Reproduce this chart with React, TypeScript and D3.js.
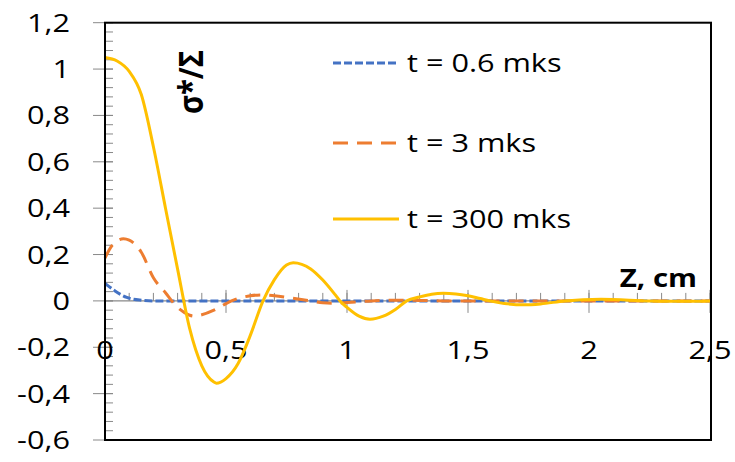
import React, { useEffect, useRef } from 'react';
import * as d3 from 'd3';

// values
const yTicks = [-0.6, -0.4, -0.2, 0, 0.2, 0.4, 0.6, 0.8, 1, 1.2];
const xTicks = [0, 0.5, 1, 1.5, 2, 2.5];

const seriesNames = ['t = 0.6 mks', 't = 3 mks', 't = 300 mks'];
const seriesColors = ['#4472C4', '#ED7D31', '#FFC000'];
const seriesDash = ['8,3', '15,9', null];

const blueZ = [0, 0.04, 0.09, 0.15, 0.2, 0.5, 1, 1.5, 2, 2.5];
const blueS = [0.076, 0.044, 0.015, 0.003, 0, 0, 0, 0, 0, 0];

const orangeZ = [0, 0.03, 0.076, 0.1, 0.15, 0.2, 0.25, 0.3, 0.35, 0.372, 0.4, 0.45, 0.5, 0.523, 0.6, 0.65, 0.7, 0.77, 0.85, 0.9, 0.95, 1.0, 1.1, 1.2, 1.3, 1.4, 1.6, 2, 2.5];
const orangeS = [0.185, 0.24, 0.268, 0.262, 0.21, 0.1, 0.035, -0.028, -0.062, -0.066, -0.06, -0.04, -0.012, 0, 0.022, 0.026, 0.022, 0.012, 0, -0.008, -0.01, -0.007, 0, 0.003, 0.002, 0, 0, 0, 0];

const yellowZ = [0, 0.05, 0.1, 0.15, 0.2, 0.25, 0.3, 0.35, 0.4, 0.45, 0.46, 0.5, 0.55, 0.6, 0.653, 0.7, 0.75, 0.778, 0.85, 0.9, 0.95, 0.971, 1.0, 1.05, 1.095, 1.15, 1.2, 1.247, 1.3, 1.35, 1.398, 1.45, 1.5, 1.55, 1.59, 1.65, 1.73, 1.8, 1.9, 2.05, 2.25, 2.4, 2.5];
const yellowS = [1.05, 1.035, 0.99, 0.89, 0.665, 0.4, 0.137, -0.12, -0.28, -0.35, -0.355, -0.335, -0.27, -0.15, 0, 0.092, 0.155, 0.165, 0.138, 0.09, 0.028, 0, -0.028, -0.066, -0.079, -0.066, -0.037, 0, 0.017, 0.029, 0.033, 0.03, 0.022, 0.01, 0, -0.011, -0.017, -0.013, 0, 0.007, 0, -0.002, 0];

const seriesZ = [blueZ, orangeZ, yellowZ];
const seriesS = [blueS, orangeS, yellowS];

const fmt = (v: number) => String(+v.toFixed(1)).replace('.', ',');

const App = () => {
  const svgRef = useRef<SVGSVGElement>(null);
  const width = 735;
  const height = 462;
  const stretch = 1.18;
  const font = '"Open Sans", sans-serif';

  useEffect(() => {
    const x = d3.scaleLinear().domain([0, 2.5]).range([105, 710]);
    const y = d3.scaleLinear().domain([-0.6, 1.2]).range([440, 22.7]);

    const svg = d3.select(svgRef.current)
      .attr('width', width)
      .attr('height', height)
      .style('background', '#fff');
    svg.selectAll('*').remove();

    const label = (g: any, tx: number, ty: number, txt: string, anchor: string, size: number, bold = false) =>
      g.append('text')
        .attr('transform', `translate(${tx},${ty}) scale(${stretch},1)`)
        .attr('text-anchor', anchor)
        .attr('font-family', font)
        .attr('font-size', size)
        .attr('font-weight', bold ? 'bold' : 'normal')
        .attr('fill', '#000')
        .text(txt);

    // minor ticks
    const minorY = d3.range(-0.6, 1.2001, 0.04);
    svg.append('g').selectAll('line').data(minorY).enter().append('line')
      .attr('x1', x(0)).attr('x2', x(0) + 8)
      .attr('y1', d => y(d)).attr('y2', d => y(d))
      .attr('stroke', '#898989').attr('stroke-width', 1);
    const minorX = d3.range(0, 2.5001, 0.1);
    svg.append('g').selectAll('line').data(minorX).enter().append('line')
      .attr('x1', d => x(d)).attr('x2', d => x(d))
      .attr('y1', y(0) - 8).attr('y2', y(0))
      .attr('stroke', '#898989').attr('stroke-width', 1);

    // major ticks
    svg.append('g').selectAll('line').data(yTicks).enter().append('line')
      .attr('x1', x(0) - 12).attr('x2', x(0) + 8)
      .attr('y1', d => y(d)).attr('y2', d => y(d))
      .attr('stroke', '#898989').attr('stroke-width', 1);
    svg.append('g').selectAll('line').data(xTicks).enter().append('line')
      .attr('x1', d => x(d)).attr('x2', d => x(d))
      .attr('y1', y(0) - 11).attr('y2', y(0) + 12)
      .attr('stroke', '#898989').attr('stroke-width', 1);

    // zero line
    svg.append('line')
      .attr('x1', x(0)).attr('x2', x(2.5))
      .attr('y1', y(0)).attr('y2', y(0))
      .attr('stroke', '#898989').attr('stroke-width', 1.2);

    // tick labels
    const yl = svg.append('g');
    yTicks.forEach(v => label(yl, 70, y(v) + 9, fmt(v), 'end', 26));
    const xl = svg.append('g');
    xTicks.forEach(v => label(xl, x(v), 359, fmt(v), 'middle', 26));

    // series
    const line = d3.line<[number, number]>()
      .x(d => x(d[0]))
      .y(d => y(d[1]))
      .curve(d3.curveMonotoneX);
    seriesZ.forEach((zs, i) => {
      const pts = zs.map((z, k) => [z, seriesS[i][k]] as [number, number]);
      svg.append('path')
        .datum(pts)
        .attr('fill', 'none')
        .attr('stroke', seriesColors[i])
        .attr('stroke-width', 3)
        .attr('stroke-dasharray', seriesDash[i])
        .attr('d', line);
    });

    // frame
    svg.append('rect')
      .attr('x', x(0)).attr('y', y(1.2))
      .attr('width', x(2.5) + 1 - x(0)).attr('height', y(-0.6) - y(1.2))
      .attr('fill', 'none')
      .attr('stroke', '#000').attr('stroke-width', 2);

    // legend
    const lg = svg.append('g');
    const legendY = [63, 143, 219];
    seriesNames.forEach((name, i) => {
      lg.append('line')
        .attr('x1', 333).attr('x2', 399)
        .attr('y1', legendY[i]).attr('y2', legendY[i])
        .attr('stroke', seriesColors[i])
        .attr('stroke-width', 3)
        .attr('stroke-dasharray', seriesDash[i]);
      label(lg, 407, legendY[i] + 9, name, 'start', 26);
    });

    // axis titles
    label(svg, 697, 287, 'Z, cm', 'end', 25, true);
    svg.append('text')
      .attr('transform', `translate(190,82) scale(${stretch},1) rotate(-90)`)
      .attr('text-anchor', 'middle')
      .attr('dominant-baseline', 'central')
      .attr('font-family', font)
      .attr('font-size', 29)
      .attr('font-weight', 'bold')
      .text('σ*/Σ');
  }, []);

  return <svg ref={svgRef} style={{ position: 'absolute', left: 0, top: 0 }}></svg>;
};

export default App;
